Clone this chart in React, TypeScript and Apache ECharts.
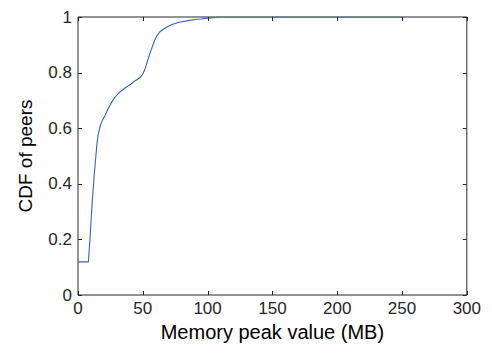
import React, { useEffect, useRef } from "react";
import * as echarts from "echarts";

const memX = [0, 8, 9.5, 10.9, 12.5, 14.6, 15.5, 17.1, 18.8, 20.8, 23, 25.8, 28.3, 30.8, 33, 35.7, 38, 40.7, 43.2, 46, 48.2, 50, 51.9, 53.5, 55.6, 57.5, 59.3, 61, 63, 65.5, 68, 72, 77.9, 85, 90.3, 95, 100.3, 106.5, 108, 250];
const cdfY = [0.119, 0.119, 0.22, 0.33, 0.43, 0.544, 0.575, 0.608, 0.628, 0.645, 0.668, 0.692, 0.71, 0.723, 0.733, 0.743, 0.75, 0.758, 0.768, 0.776, 0.784, 0.795, 0.815, 0.84, 0.87, 0.895, 0.918, 0.933, 0.946, 0.955, 0.962, 0.972, 0.981, 0.987, 0.991, 0.993, 0.996, 0.998, 1, 1];
const xTicks = [0, 50, 100, 150, 200, 250, 300];
const yTicks = [0, 0.2, 0.4, 0.6, 0.8, 1];

const TXT = "#262626";
const FONT = "'Liberation Sans', Arial, Helvetica, sans-serif";
const TICK_LEN = 4;

export default function App() {
  const ref = useRef<HTMLDivElement>(null);
  useEffect(() => {
    if (!ref.current) return;
    const chart = echarts.init(ref.current, undefined, { renderer: "svg" });
    const xMin = xTicks[0];
    const xMax = xTicks[xTicks.length - 1];
    const yMin = yTicks[0];
    const yMax = yTicks[yTicks.length - 1];
    const tickData = [
      ...xTicks.map((v) => [0, v]),
      ...yTicks.map((v) => [1, v]),
    ];
    chart.setOption({
      animation: false,
      backgroundColor: "#ffffff",
      textStyle: { fontFamily: FONT },
      grid: {
        left: 64,
        right: 9,
        top: 9,
        bottom: 42,
        show: true,
        borderColor: TXT,
        borderWidth: 1,
        backgroundColor: "transparent",
      },
      xAxis: {
        type: "value",
        min: xMin,
        max: xMax,
        interval: 50,
        position: "bottom",
        name: "Memory peak value (MB)",
        nameLocation: "middle",
        nameGap: 27,
        nameTextStyle: { fontSize: 20, color: "#000", fontFamily: FONT },
        axisLine: { show: false },
        axisTick: { show: false },
        axisLabel: { fontSize: 17, color: TXT, margin: 5, fontFamily: FONT },
        splitLine: { show: false },
      },
      yAxis: {
        type: "value",
        min: yMin,
        max: yMax,
        interval: 0.2,
        position: "left",
        name: "CDF of peers",
        nameLocation: "middle",
        nameGap: 43,
        nameTextStyle: { fontSize: 19, color: "#000", fontFamily: FONT },
        axisLine: { show: false },
        axisTick: { show: false },
        axisLabel: {
          fontSize: 17,
          color: TXT,
          margin: 6,
          fontFamily: FONT,
          formatter: (v: number) => String(Math.round(v * 10) / 10),
        },
        splitLine: { show: false },
      },
      series: [
        {
          type: "line",
          data: memX.map((x, i) => [x, cdfY[i]]),
          showSymbol: false,
          symbol: "none",
          lineStyle: { color: "#3a62b8", width: 1.1 },
          z: 2,
        },
        {
          type: "custom",
          data: tickData,
          clip: false,
          silent: true,
          z: 3,
          renderItem: (params: any, api: any) => {
            const kind = api.value(0);
            const v = api.value(1);
            const style = { stroke: TXT, lineWidth: 1, fill: null };
            if (kind === 0) {
              const b = api.coord([v, yMin]);
              const t = api.coord([v, yMax]);
              const x = Math.round(b[0]) + 0.5;
              return {
                type: "group",
                children: [
                  { type: "line", shape: { x1: x, y1: b[1], x2: x, y2: b[1] - TICK_LEN }, style },
                  { type: "line", shape: { x1: x, y1: t[1], x2: x, y2: t[1] + TICK_LEN }, style },
                ],
              };
            }
            const l = api.coord([xMin, v]);
            const r = api.coord([xMax, v]);
            const y = Math.round(l[1]) + 0.5;
            return {
              type: "group",
              children: [
                { type: "line", shape: { x1: l[0], y1: y, x2: l[0] + TICK_LEN, y2: y }, style },
                { type: "line", shape: { x1: r[0], y1: y, x2: r[0] - TICK_LEN, y2: y }, style },
              ],
            };
          },
        },
      ],
    });
    return () => chart.dispose();
  }, []);
  return <div ref={ref} style={{ width: 476, height: 339 }} />;
}
